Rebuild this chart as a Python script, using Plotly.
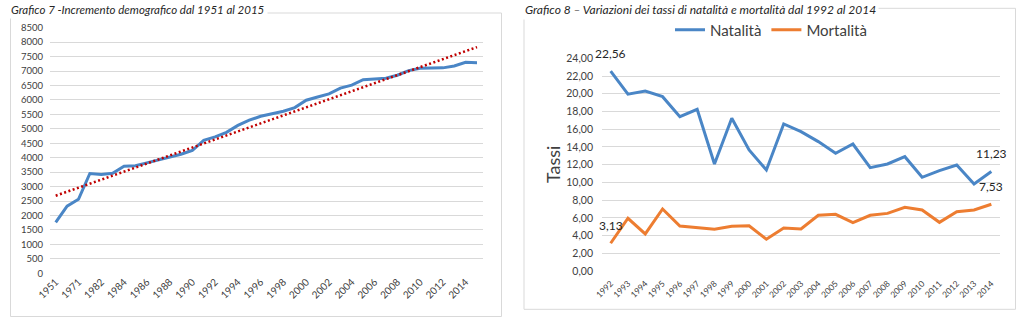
import numpy as np
import plotly.graph_objects as go

# ---- Grafico 7: popolazione residente ----
anni_pop = ["1951", "1961", "1971", "1981"] + [str(a) for a in range(1982, 2016)]
popolazione = [1760, 2325, 2560, 3455, 3420, 3465, 3705, 3720, 3820, 3915,
               4005, 4120, 4250, 4600, 4720, 4880, 5120, 5300, 5435, 5530,
               5610, 5735, 5990, 6100, 6210, 6410, 6510, 6700, 6715, 6750,
               6855, 7015, 7095, 7105, 7110, 7175, 7300, 7290]
tick_pop = anni_pop[::2]

# ---- Grafico 8: tassi di natalità e mortalità ----
anni_tassi = [str(a) for a in range(1992, 2015)]
natalita = [22.56, 19.95, 20.30, 19.67, 17.42, 18.25, 12.08, 17.23, 13.66, 11.40,
            16.59, 15.73, 14.60, 13.28, 14.33, 11.66, 12.08, 12.90, 10.57, 11.32,
            11.96, 9.82, 11.23]
mortalita = [3.13, 5.95, 4.18, 7.00, 5.08, 4.93, 4.70, 5.04, 5.11, 3.58,
             4.85, 4.74, 6.28, 6.40, 5.45, 6.28, 6.50, 7.19, 6.88, 5.49,
             6.69, 6.88, 7.53]

W, H = 1024, 324
FONT = "Lato"
GRID = "#d9d9d9"
TXT = "#404040"


def px_x(p):
    return p / W


def px_y(p):
    return 1 - p / H


def etichette_estremi(valori):
    # value labels for the first and last point, Italian decimal comma;
    # x is the category index on the year axis
    out = []
    for i in (0, len(valori) - 1):
        out.append(dict(
            x=i, y=valori[i], xref="x2", yref="y2",
            text=f"{valori[i]:.2f}".replace(".", ","),
            showarrow=False, xanchor="center", yanchor="bottom", yshift=8,
            font=dict(family=FONT, size=12, color="#262626")))
    return out


# linear trend (least squares on category index)
idx = np.arange(len(popolazione))
coef = np.polyfit(idx, popolazione, 1)
trend = np.polyval(coef, idx)

fig = go.Figure()

fig.add_trace(go.Scatter(
    x=anni_pop, y=popolazione, mode="lines",
    line=dict(color="#4A86C6", width=3), showlegend=False,
    xaxis="x", yaxis="y"))
fig.add_trace(go.Scatter(
    x=anni_pop, y=trend, mode="lines",
    line=dict(color="#C00000", width=2.5, dash="2px,2.5px"), showlegend=False,
    xaxis="x", yaxis="y"))

fig.add_trace(go.Scatter(
    x=anni_tassi, y=natalita, name="Natalità", mode="lines",
    line=dict(color="#4A86C6", width=3),
    xaxis="x2", yaxis="y2"))
fig.add_trace(go.Scatter(
    x=anni_tassi, y=mortalita, name="Mortalità", mode="lines",
    line=dict(color="#ED7D31", width=3),
    xaxis="x2", yaxis="y2"))

annotazioni = [
    dict(text="<i>Grafico 7 -Incremento demografico dal 1951 al 2015</i>",
         xref="paper", yref="paper", x=px_x(8), y=px_y(9.5),
         xanchor="left", yanchor="middle", showarrow=False,
         bgcolor="white", borderpad=2,
         font=dict(family=FONT, size=11.5, color="#262626")),
    dict(text="<i>Grafico 8 – Variazioni dei tassi di natalità e mortalità dal 1992 al 2014</i>",
         xref="paper", yref="paper", x=px_x(522), y=px_y(9.5),
         xanchor="left", yanchor="middle", showarrow=False,
         bgcolor="white", borderpad=2,
         font=dict(family=FONT, size=12, color="#262626")),
    dict(text="Tassi", textangle=-90,
         xref="paper", yref="paper", x=px_x(553), y=px_y(165),
         xanchor="center", yanchor="middle", showarrow=False,
         font=dict(family=FONT, size=18, color=TXT)),
]
annotazioni += etichette_estremi(natalita)
annotazioni += etichette_estremi(mortalita)

fig.update_layout(
    width=W, height=H,
    margin=dict(l=0, r=0, t=0, b=0, autoexpand=False),
    paper_bgcolor="white", plot_bgcolor="white",
    separators=",.",
    font=dict(family=FONT, color=TXT),
    xaxis=dict(
        domain=[px_x(50), px_x(482.7)], anchor="y", automargin=False,
        type="category", range=[-0.5, len(anni_pop) - 0.5],
        tickmode="array", tickvals=tick_pop, ticktext=tick_pop,
        tickangle=-45, tickfont=dict(size=10, color=TXT),
        showgrid=False, showline=False, zeroline=False, ticks=""),
    yaxis=dict(
        domain=[px_y(273.3), px_y(27.7)], anchor="x", automargin=False,
        range=[0, 8500], dtick=500, tickformat="d",
        tickfont=dict(size=9.5, color=TXT),
        gridcolor=GRID, gridwidth=1, zeroline=False, showline=False,
        ticklabelstandoff=6),
    xaxis2=dict(
        domain=[px_x(602), px_x(1000)], anchor="y2", automargin=False,
        type="category", range=[-0.5, len(anni_tassi) - 0.5],
        tickangle=-45, tickfont=dict(size=8.5, color=TXT),
        ticklabelstandoff=5,
        showgrid=False, showline=False, zeroline=False, ticks=""),
    yaxis2=dict(
        domain=[px_y(271), px_y(58.3)], anchor="x2", automargin=False,
        range=[0, 24], dtick=2, tickformat=".2f",
        tickfont=dict(size=10.5, color=TXT),
        gridcolor=GRID, gridwidth=1, zeroline=False, showline=False,
        ticklabelstandoff=8),
    legend=dict(
        orientation="h", x=px_x(771), xanchor="center",
        y=px_y(30), yanchor="middle",
        font=dict(family=FONT, size=15, color=TXT),
        bgcolor="rgba(0,0,0,0)", itemwidth=30, tracegroupgap=0),
    shapes=[
        dict(type="rect", xref="paper", yref="paper",
             x0=px_x(10.5), x1=px_x(501.5), y0=px_y(316.5), y1=px_y(13),
             line=dict(color=GRID, width=1), layer="below"),
        dict(type="rect", xref="paper", yref="paper",
             x0=px_x(524), x1=px_x(1015.5), y0=px_y(309.3), y1=px_y(8.3),
             line=dict(color=GRID, width=1), layer="below"),
    ],
    annotations=annotazioni,
)

fig.write_html("out.html")
